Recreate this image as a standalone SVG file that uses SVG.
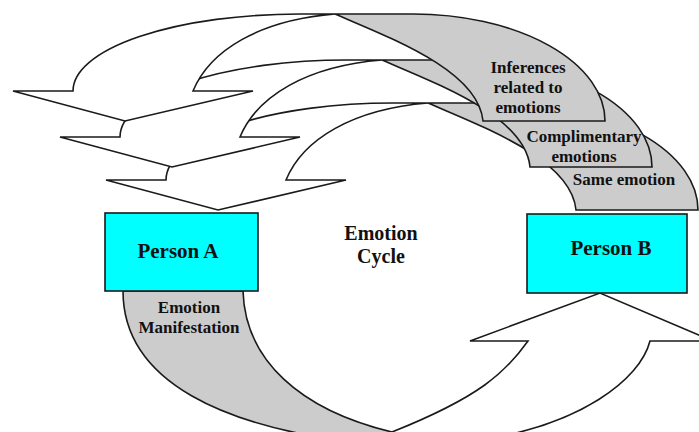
<svg xmlns="http://www.w3.org/2000/svg" xmlns:xlink="http://www.w3.org/1999/xlink" width="699" height="432" viewBox="0 0 699 432">
<defs>
<style>
.face{stroke:#1a1a1a;stroke-width:1.6;stroke-linejoin:miter}
.front{fill:#ffffff}
.back{fill:#cccccc}
.box{fill:#00ffff;stroke:#1a1a1a;stroke-width:1.6}
.t{font-family:'Liberation Serif','DejaVu Serif',serif;font-weight:700;fill:#111111;text-anchor:middle}
.lab{font-size:17px}
.big{font-size:21px}
.mid{font-size:20px}
</style>
<path id="dback" d="M335,14 L413,14 A192,107 0 0 1 605,121 L483,121 C478,70 390,38 335,14 Z"/>
<path id="dfront" d="M73,91 L13,91 L125,121 L253,91 L193,91 C210,50 260,20 335,14 L300,14 A227,77 0 0 0 73,91 Z"/>
</defs>
<rect width="699" height="432" fill="#ffffff"/>
<g id="connectors">
  <g id="arrow-same-emotion">
    <g transform="translate(93,89)">
      <use href="#dback" xlink:href="#dback" class="face back"/>
      <use href="#dfront" xlink:href="#dfront" class="face front"/>
    </g>
    <text class="t lab" font-family="Liberation Serif, serif" x="624" y="185">Same emotion</text>
  </g>
  <g id="arrow-complimentary">
    <g transform="translate(47,46)">
      <use href="#dback" xlink:href="#dback" class="face back"/>
      <use href="#dfront" xlink:href="#dfront" class="face front"/>
    </g>
    <text class="t lab" font-family="Liberation Serif, serif" x="584" y="142">Complimentary</text>
    <text class="t lab" font-family="Liberation Serif, serif" x="584" y="162">emotions</text>
  </g>
  <g id="arrow-inferences">
    <use href="#dback" xlink:href="#dback" class="face back"/>
    <use href="#dfront" xlink:href="#dfront" class="face front"/>
    <text class="t lab" font-family="Liberation Serif, serif" x="528" y="73">Inferences</text>
    <text class="t lab" font-family="Liberation Serif, serif" x="528" y="93">related to</text>
    <text class="t lab" font-family="Liberation Serif, serif" x="528" y="113">emotions</text>
  </g>
  <g id="arrow-manifestation">
    <path class="face back" d="M123,291 L243,291 C245,360 300,410 392,432 L392,470 L380,470 L380,445 C220,430 123,380 123,291 Z"/>
    <path class="face front" d="M392,432 C480,397 506,372 528,341 L470,341 L600,293 L713,341 L650,341 C640,380 580,425 480,440 L480,470 L392,470 Z"/>
    <text class="t lab" font-family="Liberation Serif, serif" x="189" y="313">Emotion</text>
    <text class="t lab" font-family="Liberation Serif, serif" x="189" y="333">Manifestation</text>
  </g>
</g>
<g id="person-a">
  <rect class="box" x="105" y="213" width="153" height="78"/>
  <text class="t big" font-family="Liberation Serif, serif" x="178" y="258">Person A</text>
</g>
<g id="person-b">
  <rect class="box" x="527" y="214" width="160" height="79"/>
  <text class="t big" font-family="Liberation Serif, serif" x="611" y="255">Person B</text>
</g>
<g id="emotion-cycle">
  <text class="t mid" font-family="Liberation Serif, serif" x="381" y="240">Emotion</text>
  <text class="t mid" font-family="Liberation Serif, serif" x="381" y="263">Cycle</text>
</g>
</svg>
